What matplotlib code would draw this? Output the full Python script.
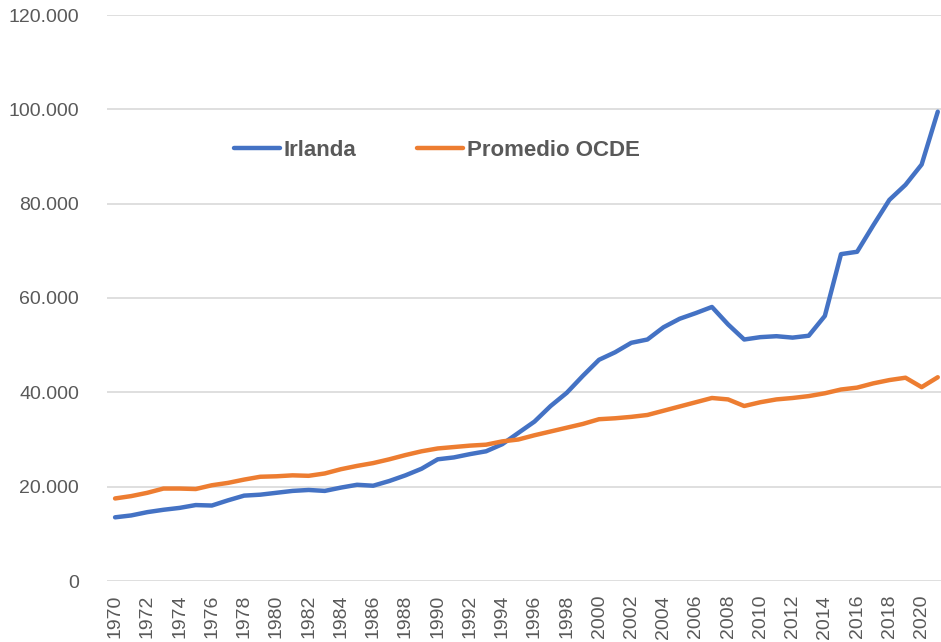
import matplotlib
matplotlib.use("Agg")
import matplotlib.pyplot as plt
from matplotlib.ticker import FuncFormatter

years = list(range(1970, 2022))
irlanda = [13500, 13900, 14600, 15100, 15500, 16100, 16000, 17100, 18100, 18300,
           18700, 19100, 19300, 19100, 19800, 20400, 20200, 21200, 22400, 23800,
           25800, 26200, 26900, 27500, 29000, 31400, 33800, 37100, 39900, 43500,
           46900, 48500, 50500, 51200, 53800, 55600, 56800, 58100, 54400, 51200,
           51700, 51900, 51600, 52000, 56200, 69300, 69800, 75400, 80800, 84000,
           88300, 99500]
ocde = [17500, 18000, 18700, 19600, 19600, 19500, 20300, 20800, 21500, 22100,
        22200, 22400, 22300, 22800, 23700, 24400, 25000, 25800, 26700, 27500,
        28100, 28400, 28700, 28900, 29600, 30000, 30900, 31700, 32500, 33300,
        34300, 34500, 34800, 35200, 36100, 37000, 37900, 38800, 38500, 37100,
        37900, 38500, 38800, 39200, 39800, 40600, 41000, 41900, 42600, 43100,
        41100, 43200]
series_names = ["Irlanda", "Promedio OCDE"]
colors = ["#4472C4", "#ED7D31"]

W, H = 941, 642
fig = plt.figure(figsize=(W / 100, H / 100), dpi=100)
ax = fig.add_axes([107 / W, 1 - 581 / H, (W - 107) / W, (581 - 15) / H])

ax.plot(years, irlanda, color=colors[0], lw=3.2, label=series_names[0], solid_capstyle="round")
ax.plot(years, ocde, color=colors[1], lw=3.2, label=series_names[1], solid_capstyle="round")

ax.set_xlim(1969.5, 2021.2)
ax.set_ylim(0, 120000)
ax.set_yticks(range(0, 120001, 20000))
ax.yaxis.set_major_formatter(FuncFormatter(lambda v, p: f"{int(v):,}".replace(",", ".")))
ax.set_xticks(years[::2])
ax.set_xticklabels([str(y) for y in years[::2]], rotation=90)

ax.grid(axis="y", color="#D9D9D9", lw=1.2)
ax.set_axisbelow(True)
for s in ax.spines.values():
    s.set_visible(False)
ax.tick_params(axis="both", length=0, labelsize=14, labelcolor="#595959")
ax.tick_params(axis="y", pad=20)
ax.tick_params(axis="x", pad=10)
for lbl in ax.get_xticklabels() + ax.get_yticklabels():
    lbl.set_fontfamily("Liberation Sans")

leg = ax.legend(loc="center", bbox_to_anchor=(437 / W, 1 - 150 / H), bbox_transform=fig.transFigure,
                ncol=2, frameon=False, handlelength=2.07, handletextpad=0.18, columnspacing=2.75,
                prop={"family": "Liberation Sans", "weight": "bold", "size": 16})
for t in leg.get_texts():
    t.set_color("#595959")

fig.savefig("out.png", dpi=100)
